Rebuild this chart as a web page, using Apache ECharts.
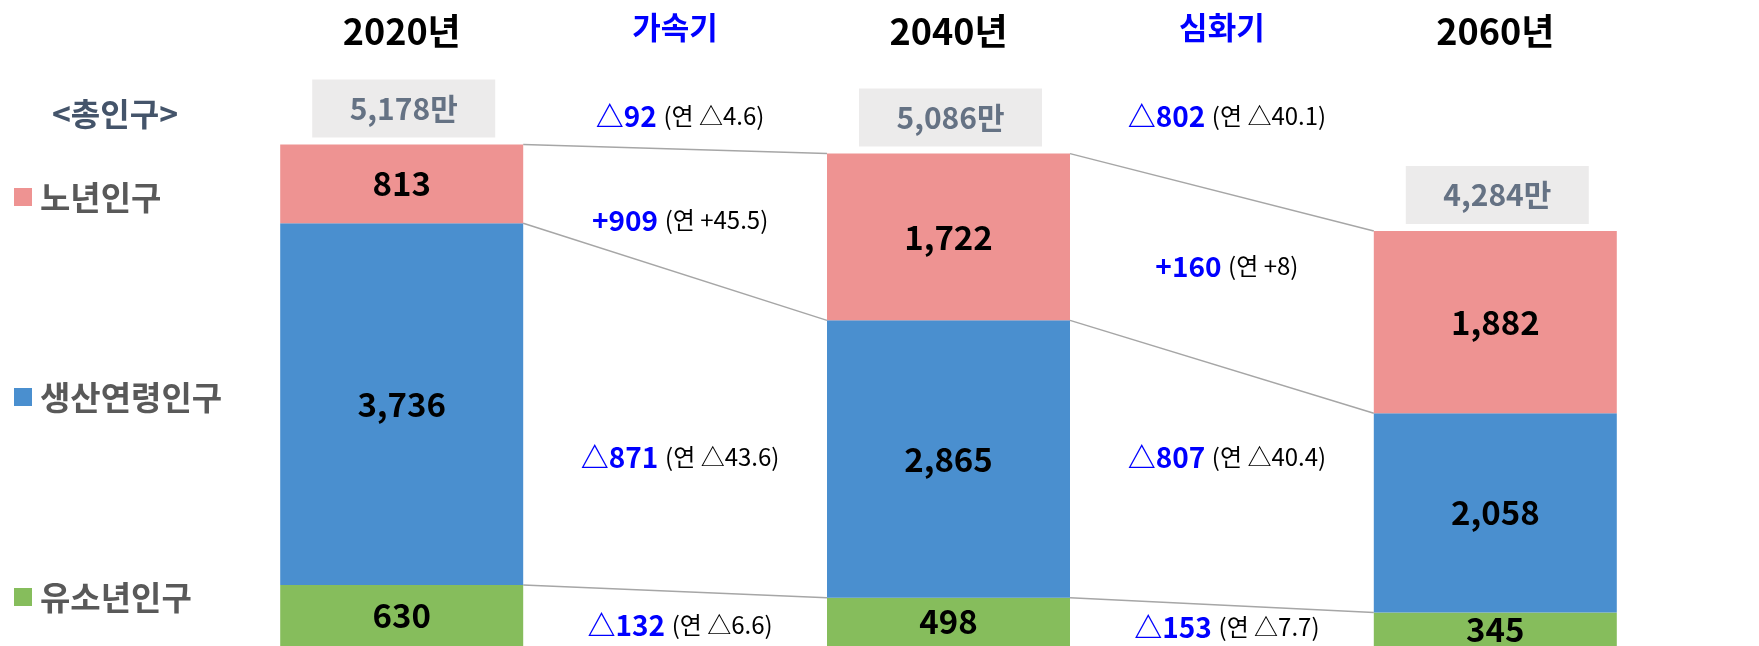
<!DOCTYPE html>
<html>
<head>
<meta charset="utf-8">
<script src="https://cdn.jsdelivr.net/npm/echarts@6/dist/echarts.min.js"></script>
<style>
  html, body { margin: 0; padding: 0; background: #fff; }
  #pop { width: 1759px; height: 646px; }
</style>
</head>
<body>
<div id="pop"></div>
<script>
// 데이터 (만 명)
var years = ['2020년', '2040년', '2060년'];
var phases = ['가속기', '심화기'];
var young = [630, 498, 345];
var working = [3736, 2865, 2058];
var elderly = [813, 1722, 1882];
var totals = [5178, 5086, 4284];
// 구간별 증감: 총인구, 노년, 생산연령, 유소년 순
var accelChg = ['△92', '+909', '△871', '△132'];
var accelYear = ['△4.6', '+45.5', '△43.6', '△6.6'];
var deepChg = ['△802', '+160', '△807', '△153'];
var deepYear = ['△40.1', '+8', '△40.4', '△7.7'];

var FONT = '"Noto Sans CJK KR", "Noto Sans", sans-serif';
var BAR_W = 243;

var categories = [years[0], phases[0], years[1], phases[1], years[2]];
function toCat(arr) {
  return categories.map(function (c, i) { return i % 2 === 0 ? arr[i / 2] : '-'; });
}

// 누적값 (연결선용)
var lvl1 = young;
var lvl2 = young.map(function (v, i) { return v + working[i]; });
var lvl3 = lvl2.map(function (v, i) { return v + elderly[i]; });
var links = [];
[lvl1, lvl2, lvl3].forEach(function (lv) {
  for (var i = 0; i < 2; i++) links.push([i * 2, lv[i], lv[i + 1]]);
});

var barLabel = {
  show: true, position: 'inside', fontFamily: FONT, fontSize: 33, fontWeight: 'bold', color: '#000',
  formatter: function (p) { return p.value.toLocaleString(); }
};

var chart = echarts.init(document.getElementById('pop'));
var option;
option = {
  animation: false,
  textStyle: { fontFamily: FONT },
  grid: { left: 265, right: 127, top: 65, bottom: 0 },
  legend: {
    orient: 'vertical',
    left: 14,
    top: 180,
    padding: 0,
    itemWidth: 18,
    itemHeight: 18,
    itemGap: 166,
    icon: 'rect',
    selectedMode: false,
    data: ['노년인구', '생산연령인구', '유소년인구'],
    textStyle: { fontFamily: FONT, fontSize: 33, fontWeight: 'bold', color: '#595959', lineHeight: 34, padding: [0, 0, 0, 3] }
  },
  xAxis: {
    type: 'category',
    position: 'top',
    data: categories,
    axisLine: { show: false },
    axisTick: { show: false },
    axisLabel: {
      margin: 14,
      interval: 0,
      formatter: function (v, i) { return i % 2 ? '{ph|' + v + '}' : '{yr|' + v + '}'; },
      rich: {
        yr: { fontFamily: FONT, fontSize: 36, fontWeight: 'bold', color: '#000', lineHeight: 40 },
        ph: { fontFamily: FONT, fontSize: 31, fontWeight: 'bold', color: '#0000ff', lineHeight: 34, padding: [0, 0, 14, 0] }
      }
    }
  },
  yAxis: { type: 'value', min: 0, max: 6000, show: false, splitLine: { show: false } },
  series: [
    {
      name: '유소년인구', type: 'bar', stack: 'pop', barWidth: BAR_W,
      itemStyle: { color: '#86bd5c' },
      label: barLabel,
      data: toCat(young)
    },
    {
      name: '생산연령인구', type: 'bar', stack: 'pop', barWidth: BAR_W,
      itemStyle: { color: '#4a8fcf' },
      label: barLabel,
      data: toCat(working)
    },
    {
      name: '노년인구', type: 'bar', stack: 'pop', barWidth: BAR_W,
      itemStyle: { color: '#ee9392' },
      label: barLabel,
      data: toCat(elderly)
    },
    {
      // 총인구 상자
      type: 'scatter', symbolSize: 0, silent: true,
      data: totals.map(function (t, i) { return [i * 2, lvl3[i], t]; }),
      label: {
        show: true, position: 'top', distance: 7, offset: [2, 0],
        formatter: function (p) { return p.value[2].toLocaleString() + '만'; },
        backgroundColor: '#e7e6e6', width: 183, height: 58, lineHeight: 58, align: 'center',
        fontFamily: FONT, fontSize: 30, fontWeight: 'bold', color: '#44546a'
      }
    },
    {
      // 연결선
      type: 'custom', silent: true,
      encode: { x: 0, y: [1, 2] },
      renderItem: function (params, api) {
        var p1 = api.coord([api.value(0), api.value(1)]);
        var p2 = api.coord([api.value(0) + 2, api.value(2)]);
        return {
          type: 'line',
          shape: { x1: p1[0] + BAR_W / 2, y1: p1[1], x2: p2[0] - BAR_W / 2, y2: p2[1] },
          style: { stroke: '#a6a6a6', lineWidth: 1.5 }
        };
      },
      data: links
    }
  ]
};
chart.setOption(option);

// 증감 주석
var rowY = [[116, 220, 457, 625], [116, 266, 457, 627]];
var graphics = [{
  type: 'text', x: 115, y: 114,
  style: { text: '<총인구>', align: 'center', verticalAlign: 'middle', fontFamily: FONT, fontSize: 32, fontWeight: 'bold', fill: '#44546a' }
}];
[[accelChg, accelYear], [deepChg, deepYear]].forEach(function (g, k) {
  var cx = chart.convertToPixel({ xAxisIndex: 0 }, k * 2 + 1) + 5;
  g[0].forEach(function (chg, r) {
    graphics.push({
      type: 'text', x: cx, y: rowY[k][r],
      style: {
        text: '{b|' + chg + '}  {n|(연 ' + g[1][r] + ')}',
        align: 'center', verticalAlign: 'middle',
        rich: {
          b: { fontFamily: FONT, fontSize: 28, fontWeight: 'bold', fill: '#0000ff' },
          n: { fontFamily: FONT, fontSize: 24, fill: '#000' }
        }
      }
    });
  });
});
chart.setOption({ graphic: graphics });
</script>
</body>
</html>
